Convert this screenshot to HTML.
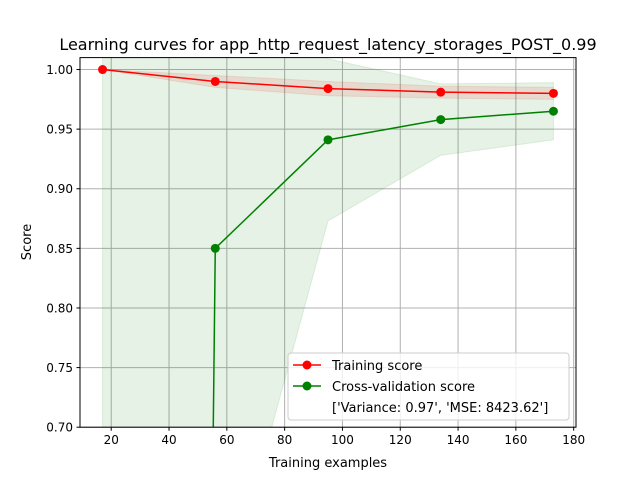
<!DOCTYPE html>
<html><head><meta charset="utf-8"><style>
html,body{margin:0;padding:0;background:#fff;overflow:hidden;width:640px;height:480px}
svg{display:block}
svg text{font-family:"DejaVu Sans","Liberation Sans",sans-serif}
</style></head><body>
<svg id="chart" width="640" height="480" xmlns="http://www.w3.org/2000/svg">
<rect width="640" height="480" fill="#fff"/>
<defs><clipPath id="clip"><rect x="80" y="57.6" width="496" height="369.6"/></clipPath></defs>
<g id="grid"></g>
<g id="bands" clip-path="url(#clip)"></g>
<g id="lines" clip-path="url(#clip)"></g>
<rect x="80" y="57.6" width="496" height="369.6" fill="none" stroke="#000" stroke-width="1"/>
<g id="ticks"></g>
<text x="328" y="50" font-size="16" text-anchor="middle">Learning curves for app_http_request_latency_storages_POST_0.99</text>
<text x="328" y="467" font-size="13" text-anchor="middle">Training examples</text>
<text transform="translate(31,242) rotate(-90)" font-size="13" text-anchor="middle">Score</text>
<g>
<rect x="288" y="353" width="281" height="67" rx="3" fill="#fff" fill-opacity="0.8" stroke="#ccc"/>
<line x1="293" y1="365" x2="321" y2="365" stroke="red" stroke-width="1.5"/><circle cx="307" cy="365" r="4.5" fill="red"/>
<text x="332" y="370" font-size="13">Training score</text>
<line x1="293" y1="386" x2="321" y2="386" stroke="green" stroke-width="1.5"/><circle cx="307" cy="386" r="4.5" fill="green"/>
<text x="332" y="391" font-size="13">Cross-validation score</text>
<text x="332" y="412" font-size="13">['Variance: 0.97', 'MSE: 8423.62']</text>
</g>
</svg>
<script>
const trainSizes=[17,56,95,134,173];
const trainMean=[1.0,0.990,0.984,0.981,0.980];
const trainStd=[0.0,0.005,0.006,0.005,0.005];
const cvMean=[-7.6,0.85,0.941,0.958,0.965];
const cvStd=[10,0.324,0.068,0.030,0.024];
const xTicks=[20,40,60,80,100,120,140,160,180];
const yTicks=[0.70,0.75,0.80,0.85,0.90,0.95,1.00];
const X0=9.2,X1=180.8,Y0=0.70,Y1=1.01;
const L=80,R=576,T=57.6,B=427.2;
const sx=v=>L+(v-X0)/(X1-X0)*(R-L);
const sy=v=>B-(v-Y0)/(Y1-Y0)*(B-T);
const NS="http://www.w3.org/2000/svg";
function mk(tag,attrs,parent){const e=document.createElementNS(NS,tag);for(const k in attrs)e.setAttribute(k,attrs[k]);document.getElementById(parent).appendChild(e);return e;}
xTicks.forEach(t=>{
 const g=mk('line',{x1:sx(t),x2:sx(t),y1:T,y2:B,stroke:'#b0b0b0','stroke-width':1},'grid');
 
 
 mk('line',{x1:sx(t),x2:sx(t),y1:B,y2:B+3.5,stroke:'#000'},'ticks');
 const tx=mk('text',{x:sx(t),y:B+17,'font-size':12,'text-anchor':'middle'},'ticks');tx.textContent=t;
 
 
});
yTicks.forEach(t=>{
 const g=mk('line',{x1:L,x2:R,y1:sy(t),y2:sy(t),stroke:'#b0b0b0','stroke-width':1},'grid');
 
 
 mk('line',{x1:L-3.5,x2:L,y1:sy(t),y2:sy(t),stroke:'#000'},'ticks');
 const tx=mk('text',{x:L-7,y:sy(t)+4.5,'font-size':12,'text-anchor':'end'},'ticks');tx.textContent=t.toFixed(2);
 
 
});
function band(mean,std,color,name){
 const up=trainSizes.map((x,i)=>sx(x)+','+sy(mean[i]+std[i]));
 const lo=trainSizes.map((x,i)=>sx(x)+','+sy(mean[i]-std[i])).reverse();
 const p=mk('polygon',{points:up.concat(lo).join(' '),fill:color,'fill-opacity':0.1,stroke:color,'stroke-opacity':0.1},'bands');
 
 
}
band(trainMean,trainStd,'red','training-std-band');
band(cvMean,cvStd,'green','cv-std-band');
function series(mean,color,name){
 const pl=mk('polyline',{points:trainSizes.map((x,i)=>sx(x)+','+sy(mean[i])).join(' '),fill:'none',stroke:color,'stroke-width':1.5},'lines');
 
 
 trainSizes.forEach((x,i)=>{
  const c=mk('circle',{cx:sx(x),cy:sy(mean[i]),r:4.5,fill:color},'lines');
  
  
 });
}
series(trainMean,'red','training');
series(cvMean,'green','cv');
</script>
</body></html>
